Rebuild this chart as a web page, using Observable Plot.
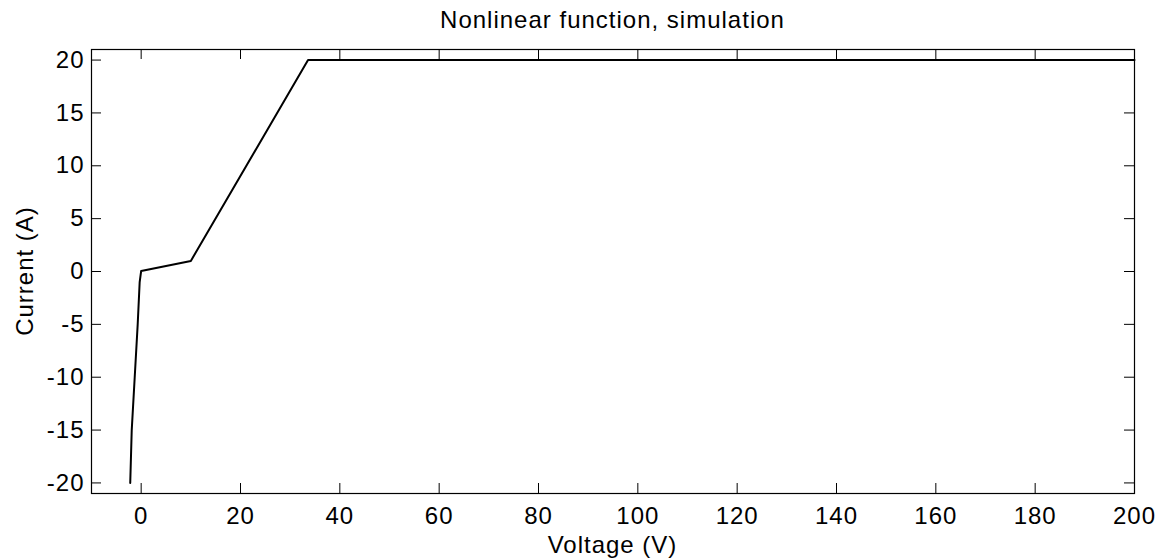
<!DOCTYPE html>
<html>
<head>
<meta charset="utf-8">
<script src="https://cdn.jsdelivr.net/npm/d3@7"></script>
<script src="https://cdn.jsdelivr.net/npm/@observablehq/plot@0.6"></script>
<style>
  html, body { margin: 0; padding: 0; background: #fff; }
  #wrap { position: relative; width: 1157px; height: 559px; font-family: "Liberation Sans", Arial, sans-serif; color: #000; letter-spacing: 1px; overflow: hidden; }
  #title { position: absolute; left: 91px; width: 1043px; top: 0; height: 40px; line-height: 40px; text-align: center; font-size: 24px; }
  #chart { position: absolute; left: 0; top: 40px; }
  #xlabel { position: absolute; left: 91px; width: 1043px; top: 533px; height: 24px; line-height: 24px; text-align: center; font-size: 24px; }
  #ylabel { position: absolute; left: -125px; width: 300px; top: 259px; height: 24px; line-height: 24px; text-align: center; font-size: 24px; transform: rotate(-90deg); transform-origin: 50% 50%; }
</style>
</head>
<body>
<div id="wrap">
  <div id="title"></div>
  <div id="chart"></div>
  <div id="xlabel"></div>
  <div id="ylabel"></div>
</div>
<script>
// Data
const voltage = [-2.2, -1.9, -1.3, -0.7, -0.3, 0, 10, 33.6, 200];
const current = [-20, -15, -10, -5, -1, 0.05, 1, 20, 20];
const xTicks = [0, 20, 40, 60, 80, 100, 120, 140, 160, 180, 200];
const yTicks = [-20, -15, -10, -5, 0, 5, 10, 15, 20];
const title = "Nonlinear function, simulation";
const xLabel = "Voltage (V)";
const yLabel = "Current (A)";

document.getElementById("title").textContent = title;
document.getElementById("xlabel").textContent = xLabel;
document.getElementById("ylabel").textContent = yLabel;

const data = voltage.map((v, i) => ({v, c: current[i]}));

const W = 1157, H = 519;
const mL = 91, mR = 23, mT = 9, mB = 66;
const innerW = W - mL - mR, innerH = H - mT - mB;
const tick = 10;
const fmt = d => String(d);

const plot = Plot.plot({
  width: W, height: H,
  marginLeft: mL, marginRight: mR, marginTop: mT, marginBottom: mB,
  style: {fontFamily: "Liberation Sans, Arial, sans-serif", fontSize: "24px", color: "#000", background: "#fff", overflow: "visible", letterSpacing: "1px"},
  x: {domain: [-10, 200]},
  y: {domain: [-21, 21]},
  marks: [
    Plot.axisX({ticks: xTicks, tickFormat: fmt, tickSize: 0, tickPadding: 13, label: null, fontSize: 24}),
    Plot.axisY({ticks: yTicks, tickFormat: fmt, tickSize: 0, tickPadding: 7, label: null, fontSize: 24}),
    Plot.tickX(xTicks, {x: d => d, insetTop: innerH - tick, stroke: "#000"}),
    Plot.tickX(xTicks, {x: d => d, insetBottom: innerH - tick, stroke: "#000"}),
    Plot.tickY(yTicks, {y: d => d, insetRight: innerW - tick, stroke: "#000"}),
    Plot.tickY(yTicks, {y: d => d, insetLeft: innerW - tick, stroke: "#000"}),
    Plot.line(data, {x: "v", y: "c", stroke: "#000", strokeWidth: 2}),
    Plot.frame({stroke: "#000", strokeWidth: 1.2})
  ]
});
document.getElementById("chart").appendChild(plot);
</script>
</body>
</html>
